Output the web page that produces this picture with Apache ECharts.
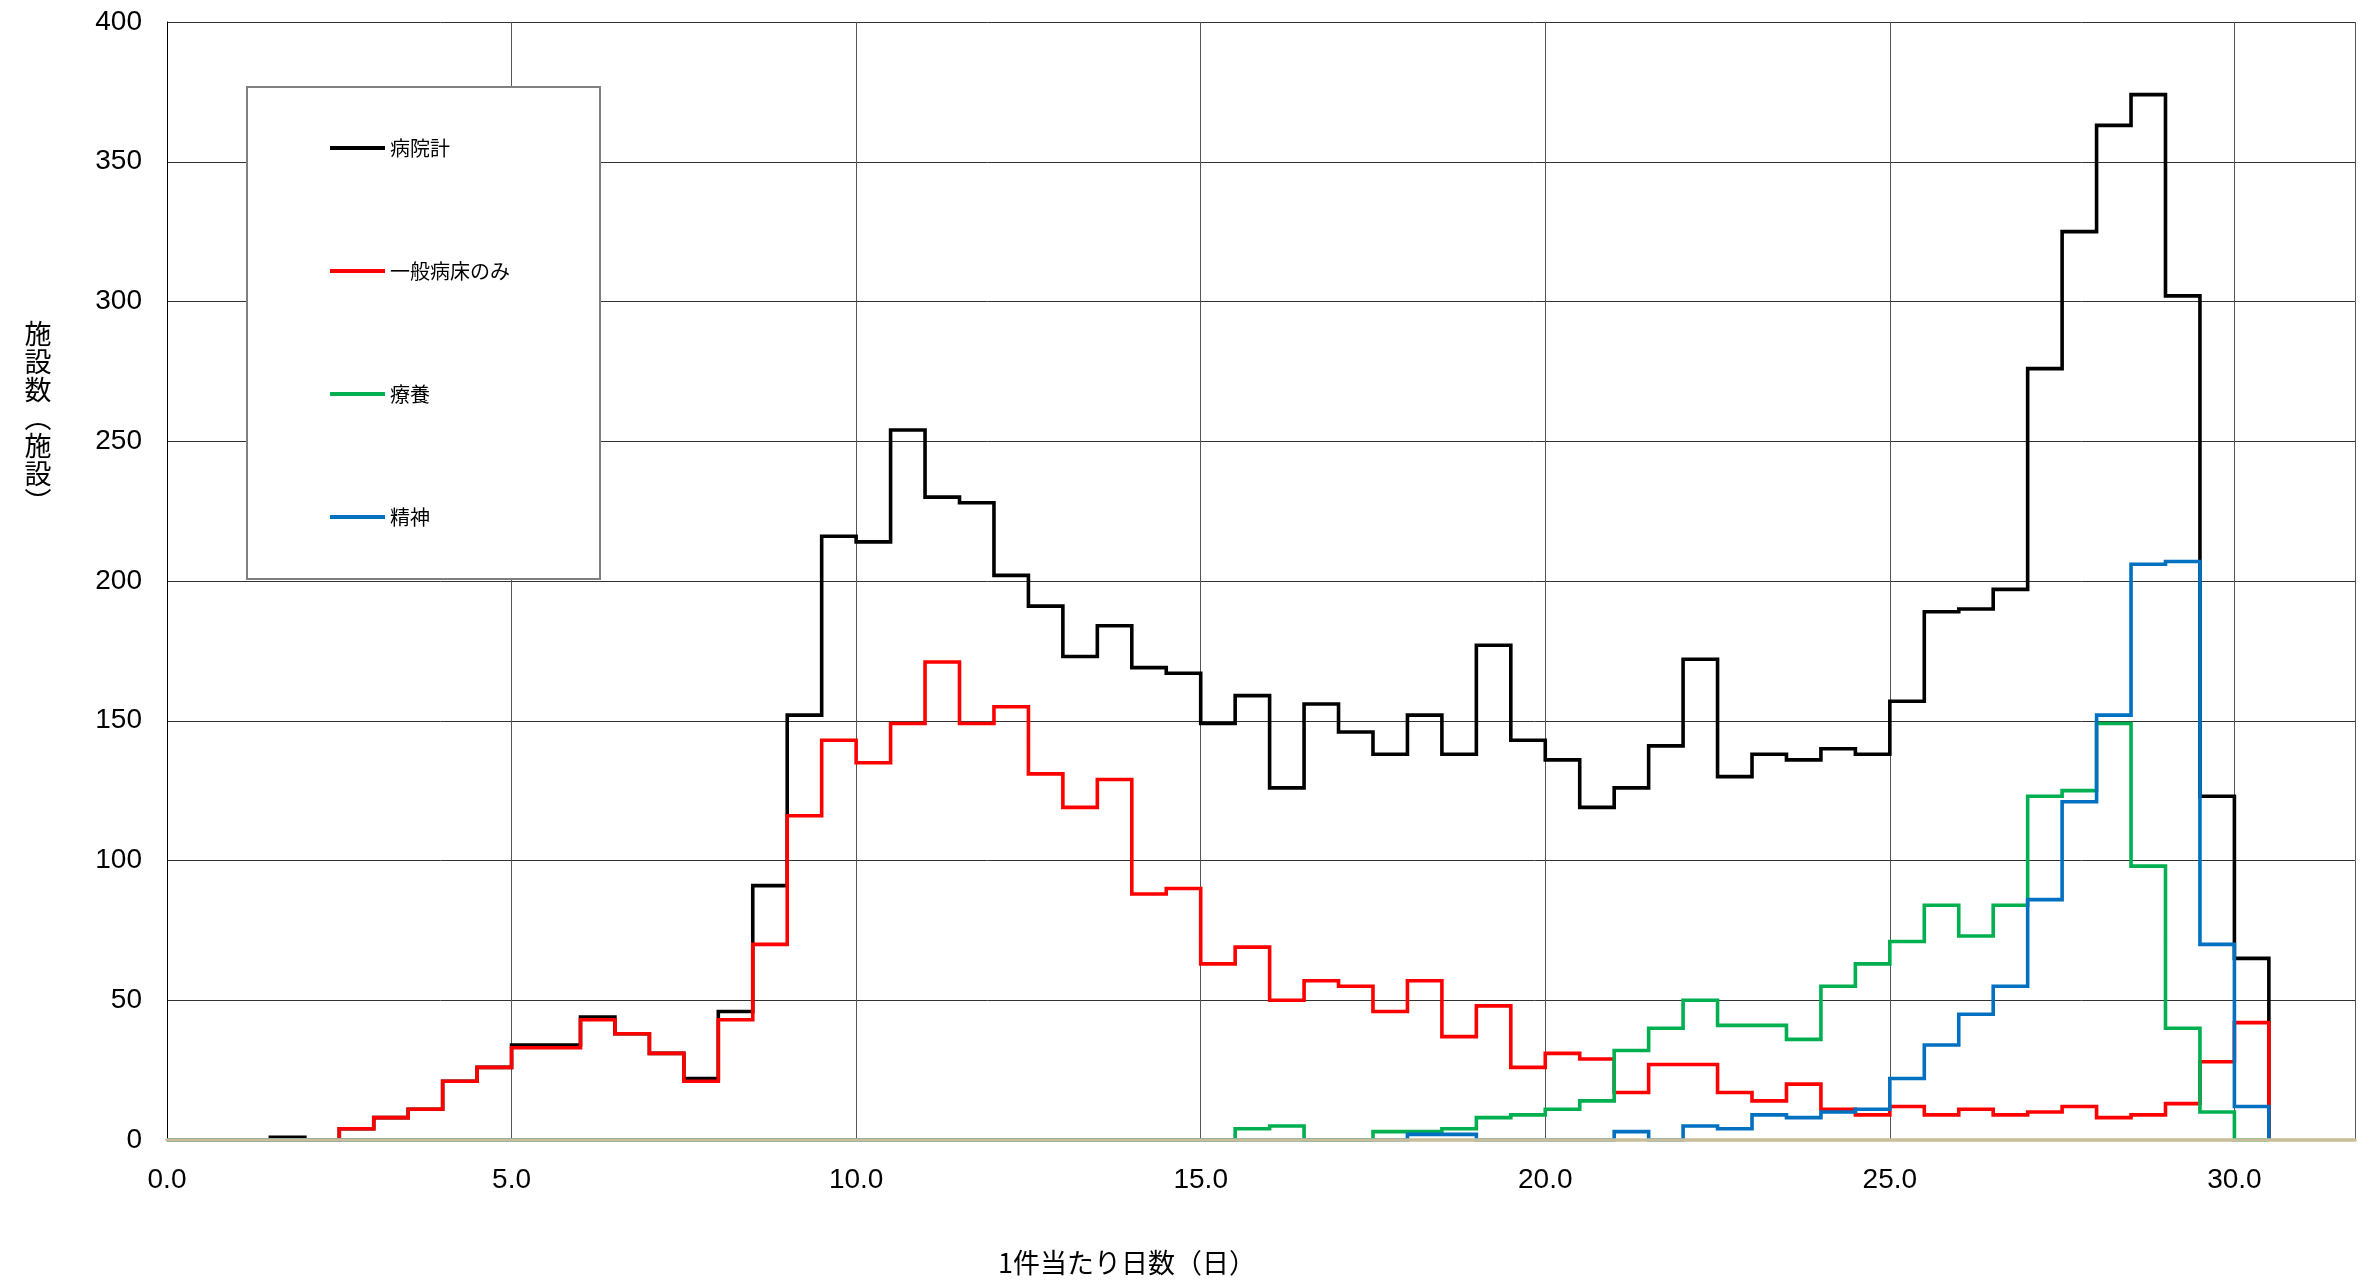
<!DOCTYPE html>
<html>
<head>
<meta charset="utf-8">
<script src="https://cdn.jsdelivr.net/npm/echarts@6/dist/echarts.min.js"></script>
<style>
  html, body { margin: 0; padding: 0; background: #fff; }
  #chart { width: 2358px; height: 1283px; }
</style>
</head>
<body>
<div id="chart"></div>
<script>
// Bin left edges (days per case), last entry is the closing edge
const binEdges = [0.0, 0.5, 1.0, 1.5, 2.0, 2.5, 3.0, 3.5, 4.0, 4.5,
  5.0, 5.5, 6.0, 6.5, 7.0, 7.5, 8.0, 8.5, 9.0, 9.5,
  10.0, 10.5, 11.0, 11.5, 12.0, 12.5, 13.0, 13.5, 14.0, 14.5,
  15.0, 15.5, 16.0, 16.5, 17.0, 17.5, 18.0, 18.5, 19.0, 19.5,
  20.0, 20.5, 21.0, 21.5, 22.0, 22.5, 23.0, 23.5, 24.0, 24.5,
  25.0, 25.5, 26.0, 26.5, 27.0, 27.5, 28.0, 28.5, 29.0, 29.5,
  30.0, 30.5];

const seriesNames = ['病院計', '一般病床のみ', '療養', '精神'];

const hospitalTotal = [0, 0, 0, 1, 0, 4, 8, 11, 21, 26,
  34, 34, 44, 38, 31, 22, 46, 91, 152, 216,
  214, 254, 230, 228, 202, 191, 173, 184, 169, 167,
  149, 159, 126, 156, 146, 138, 152, 138, 177, 143,
  136, 119, 126, 141, 172, 130, 138, 136, 140, 138,
  157, 189, 190, 197, 276, 325, 363, 374, 302, 123,
  65, 0];

const generalOnly = [0, 0, 0, 0, 0, 4, 8, 11, 21, 26,
  33, 33, 43, 38, 31, 21, 43, 70, 116, 143,
  135, 149, 171, 149, 155, 131, 119, 129, 88, 90,
  63, 69, 50, 57, 55, 46, 57, 37, 48, 26,
  31, 29, 17, 27, 27, 17, 14, 20, 11, 9,
  12, 9, 11, 9, 10, 12, 8, 9, 13, 28,
  42, 0];

const recuperation = [0, 0, 0, 0, 0, 0, 0, 0, 0, 0,
  0, 0, 0, 0, 0, 0, 0, 0, 0, 0,
  0, 0, 0, 0, 0, 0, 0, 0, 0, 0,
  0, 4, 5, 0, 0, 3, 3, 4, 8, 9,
  11, 14, 32, 40, 50, 41, 41, 36, 55, 63,
  71, 84, 73, 84, 123, 125, 149, 98, 40, 10,
  0, 0];

const psychiatric = [0, 0, 0, 0, 0, 0, 0, 0, 0, 0,
  0, 0, 0, 0, 0, 0, 0, 0, 0, 0,
  0, 0, 0, 0, 0, 0, 0, 0, 0, 0,
  0, 0, 0, 0, 0, 0, 2, 2, 0, 0,
  0, 0, 3, 0, 5, 4, 9, 8, 10, 11,
  22, 34, 45, 55, 86, 121, 152, 206, 207, 70,
  12, 0];

const yTicks = [0, 50, 100, 150, 200, 250, 300, 350, 400];
const xTicks = [0, 5, 10, 15, 20, 25, 30];

const colors = ['#000000', '#ff0000', '#00b050', '#0070c0'];
const valueSets = [hospitalTotal, generalOnly, recuperation, psychiatric];

const chart = echarts.init(document.getElementById('chart'), null, { renderer: 'canvas' });

const series = seriesNames.map((name, i) => ({
  name: name,
  type: 'line',
  step: 'end',
  xAxisIndex: 0,
  symbol: 'none',
  showSymbol: false,
  color: colors[i],
  itemStyle: { color: colors[i] },
  lineStyle: { color: colors[i], width: 3.6, join: 'miter', cap: 'butt' },
  data: binEdges.map((x, k) => [x, valueSets[i][k]]),
  z: 2
}));

const option = {
  animation: false,
  backgroundColor: '#ffffff',
  grid: { left: 167, top: 22, right: 0, bottom: 143, containLabel: false },
  xAxis: [{
    type: 'value',
    min: xTicks[0],
    max: 31.75,
    interval: 5,
    axisLine: { show: false },
    axisTick: { show: false },
    splitLine: { show: true, lineStyle: { color: '#555555', width: 1 } },
    axisLabel: {
      margin: 26,
      fontSize: 28,
      fontFamily: 'Liberation Sans',
      color: '#000',
      formatter: v => (xTicks.indexOf(v) >= 0 ? v.toFixed(1) : '')
    },
    z: 0
  }, {
    type: 'value',
    min: xTicks[0],
    max: 31.75,
    position: 'bottom',
    axisLine: { show: true, onZero: false, lineStyle: { color: '#c9be9a', width: 3.6 } },
    axisTick: { show: false },
    axisLabel: { show: false },
    splitLine: { show: false },
    z: 10
  }],
  yAxis: {
    type: 'value',
    min: yTicks[0],
    max: yTicks[yTicks.length - 1],
    interval: 50,
    axisLine: { show: true, lineStyle: { color: '#000', width: 1 } },
    axisTick: { show: false },
    splitLine: { show: true, lineStyle: { color: '#333333', width: 1 } },
    axisLabel: {
      margin: 25,
      fontSize: 28,
      fontFamily: 'Liberation Sans',
      color: '#000'
    }
  },
  legend: {
    data: seriesNames,
    orient: 'vertical',
    left: 330,
    top: 136,
    padding: 0,
    itemWidth: 55,
    itemHeight: 4,
    itemGap: 99,
    icon: 'rect',
    selectedMode: false,
    textStyle: { fontSize: 20, fontFamily: 'Noto Sans CJK JP', color: '#000', lineHeight: 24 },
    z: 12
  },
  graphic: [
    {
      type: 'rect',
      z: 5,
      shape: { x: 247, y: 87, width: 353, height: 492 },
      style: { fill: '#ffffff', stroke: '#808080', lineWidth: 2 }
    },
    {
      type: 'text',
      z: 5,
      x: 38,
      y: 418,
      style: {
        text: '施\n設\n数\n︵\n施\n設\n︶',
        font: '27px "Noto Sans CJK JP"',
        lineHeight: 28,
        fill: '#000',
        align: 'center',
        verticalAlign: 'middle'
      }
    },
    {
      type: 'text',
      z: 5,
      x: 1127,
      y: 1263,
      style: {
        text: '1件当たり日数（日）',
        font: '27px "Noto Sans CJK JP"',
        fill: '#000',
        align: 'center',
        verticalAlign: 'middle'
      }
    }
  ],
  series: series
};

chart.setOption(option);
</script>
</body>
</html>
